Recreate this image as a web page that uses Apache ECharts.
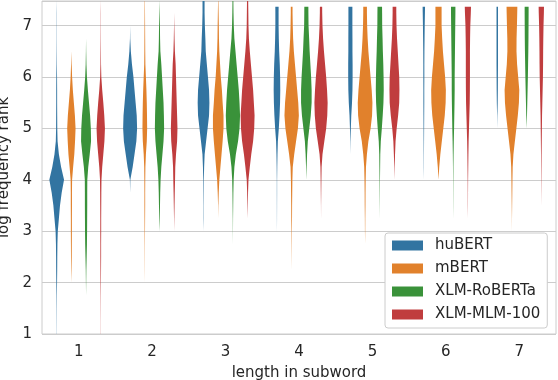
<!DOCTYPE html>
<html>
<head>
<meta charset="utf-8">
<script src="https://cdn.jsdelivr.net/npm/echarts@6/dist/echarts.min.js"></script>
<style>
  html, body { margin: 0; padding: 0; background: #fff; }
  #chart { width: 558px; height: 380px; }
</style>
</head>
<body>
<div id="chart"></div>
<script>
// length groups on the x axis
var lengths = ['1', '2', '3', '4', '5', '6', '7'];
var models = ['huBERT', 'mBERT', 'XLM-RoBERTa', 'XLM-MLM-100'];
var colors = ['#3274a1', '#e1812c', '#3a923a', '#c03d3e'];
var yTicks = [1, 2, 3, 4, 5, 6, 7];

// violin profile levels (top to bottom), widths below are read at these levels
var yLevels = [7.5, 7.25, 7.0, 6.75, 6.5, 6.25, 6.0, 5.75, 5.5, 5.25, 5.0, 4.75, 4.5,
  4.25, 4.0, 3.75, 3.5, 3.25, 3.0, 2.75, 2.5, 2.25, 2.0, 1.75, 1.5, 1.25, 1.0];
// where each length group's violins are cut flat at the top
var clipTop = [7.5, 7.5, 7.5, 7.37, 7.37, 7.37, 7.37];

// violin widths (1 = full slot), one list per length
var huBERT = [
  [0, .015, .015, .015, .02, .03, .05, .06, .06, .07, .08, .12, .3, .6, 1.0, .68, .45, .3, .15, .1, .08, .07, .05, .03, .02, .015, .01],
  [0, 0, 0, .02, .1, .25, .45, .6, .75, .9, .95, .85, .6, .35, .03],
  [.14, .14, .18, .25, .3, .45, .6, .75, .8, .75, .55, .35, .15, .08, .04, .03, .02, .02],
  [.23, .22, .22, .25, .3, .38, .43, .45, .42, .35, .25, .12, .07, .04, .02, .02, .015, .01],
  [.27, .27, .27, .28, .28, .3, .3, .28, .22, .12, .06, .02],
  [.18, .15, .12, .1, .08, .07, .07, .06, .06, .05, .04, .03, .02, .015],
  [.1, .1, .1, .1, .1, .1, .09, .08, .06, .02]
];
var mBERT = [
  [0, 0, 0, 0, 0, .04, .1, .2, .34, .48, .57, .5, .4, .24, .1, .08, .08, .07, .07, .06, .05, .03],
  [.02, .03, .04, .05, .06, .08, .15, .22, .27, .3, .32, .27, .15, .08, .06, .05, .05, .04, .03, .02, .015, .01],
  [.02, .05, .08, .1, .15, .25, .35, .5, .6, .72, .72, .6, .45, .3, .15, .07, .02],
  [.12, .12, .15, .2, .3, .45, .6, .75, .9, .98, .85, .6, .35, .15, .1, .08, .06, .05, .03, .02, .01],
  [.25, .25, .28, .35, .45, .6, .75, .9, 1.0, .95, .75, .45, .25, .12, .08, .06, .05, .03, .02],
  [.42, .42, .42, .5, .6, .75, .9, 1.0, .97, .85, .65, .45, .25, .1],
  [.75, .72, .68, .63, .62, .7, .85, 1.0, .95, .8, .6, .4, .2, .1, .07, .05, .03, .01]
];
var xlmRoberta = [
  [0, 0, 0, 0, .02, .05, .12, .25, .4, .55, .65, .68, .5, .3, .17, .16, .16, .15, .14, .12, .08, .04, .02],
  [0, .03, .06, .08, .12, .25, .35, .45, .55, .6, .63, .55, .4, .25, .15, .1, .07, .04],
  [.06, .08, .12, .2, .35, .5, .65, .8, .9, .97, .9, .7, .4, .2, .1, .06, .04, .02, .01],
  [.27, .28, .3, .38, .45, .55, .65, .72, .72, .6, .4, .2, .1, .04],
  [.3, .32, .33, .38, .42, .48, .52, .54, .5, .4, .28, .14, .07, .05, .03, .02, .01],
  [.3, .3, .28, .26, .24, .22, .2, .2, .18, .15, .12, .08, .05, .03, .02, .015, .01],
  [.27, .27, .26, .25, .23, .2, .17, .13, .09, .05]
];
var xlmMlm = [
  [0, .015, .015, .02, .03, .04, .08, .2, .35, .48, .57, .5, .35, .2, .1, .08, .07, .06, .06, .05, .05, .04, .03, .02, .015, .01, .01],
  [0, 0, .02, .05, .1, .2, .25, .3, .35, .4, .45, .4, .25, .15, .12, .08, .05, .02],
  [.08, .1, .12, .18, .3, .45, .6, .75, .85, .95, .9, .75, .5, .3, .12, .06, .03],
  [.15, .16, .2, .28, .4, .55, .7, .82, .9, .85, .7, .45, .2, .08, .05, .03, .01],
  [.25, .25, .28, .35, .45, .55, .65, .68, .65, .5, .3, .15, .08, .03],
  [.45, .4, .33, .3, .28, .28, .28, .27, .25, .2, .15, .1, .07, .05, .03, .02, .015],
  [.38, .35, .3, .27, .25, .24, .22, .18, .14, .1, .08, .06, .04, .03, .02, .01]
];
var profiles = [huBERT, mBERT, xlmRoberta, xlmMlm];

function widthAt(prof, i) {
  return i < prof.length ? prof[i] : 0;
}

function makeRender(hue) {
  return function (params, api) {
    var g = api.value(0);
    var prof = profiles[hue][g];
    var top = clipTop[g];
    var band = api.size([1, 0])[0];
    var slot = band * 0.8 / 4;
    var cx = api.coord([g, 1])[0] + (hue - 1.5) * slot;

    // collect [y, w] pairs inside the cut
    var pts = [];
    for (var i = 0; i < yLevels.length; i++) {
      var y = yLevels[i], w = widthAt(prof, i);
      if (y > top) {
        var yn = yLevels[i + 1];
        if (yn < top) {
          var wn = widthAt(prof, i + 1);
          pts.push([top, wn + (w - wn) * (top - yn) / (y - yn)]);
        }
        continue;
      }
      pts.push([y, w]);
    }
    // trim the zero ends, keep one zero so the tail tapers
    var a = 0, b = pts.length - 1;
    while (a < pts.length && pts[a][1] === 0) a++;
    while (b >= 0 && pts[b][1] === 0) b--;
    if (a > b) return;
    if (a > 0) a--;
    if (b < pts.length - 1) b++;
    pts = pts.slice(a, b + 1);

    var left = [], right = [];
    for (var k = 0; k < pts.length; k++) {
      var py = api.coord([g, pts[k][0]])[1];
      var half = pts[k][1] * slot / 2;
      right.push([cx + half, py]);
      left.unshift([cx - half, py]);
    }
    return {
      type: 'polygon',
      shape: { points: right.concat(left) },
      style: { fill: colors[hue] }
    };
  };
}

var series = models.map(function (name, hue) {
  return {
    name: name,
    type: 'custom',
    renderItem: makeRender(hue),
    clip: true,
    itemStyle: { color: colors[hue] },
    encode: { x: 0, y: 1 },
    data: lengths.map(function (l, g) { return [g, 1]; })
  };
});

var chart = echarts.init(document.getElementById('chart'), null, { renderer: 'canvas' });
chart.setOption({
  animation: false,
  textStyle: { fontFamily: 'DejaVu Sans' },
  grid: {
    left: 42, right: 2, top: 1, bottom: 46,
    containLabel: false,
    outerBoundsMode: 'none',
    show: true, borderColor: '#cccccc', borderWidth: 1
  },
  legend: {
    orient: 'vertical',
    left: 385, top: 233,
    data: models,
    icon: 'rect',
    itemWidth: 31, itemHeight: 10,
    itemGap: 8,
    padding: [5, 7, 6, 7],
    backgroundColor: '#fff',
    borderColor: '#cccccc', borderWidth: 1, borderRadius: 3,
    textStyle: { fontSize: 15, color: '#262626', padding: [0, 0, 0, 7] }
  },
  xAxis: {
    type: 'category',
    data: lengths,
    name: 'length in subword',
    nameLocation: 'middle',
    nameGap: 32,
    nameTextStyle: { fontSize: 15, color: '#262626' },
    axisLine: { show: false },
    axisTick: { show: false },
    axisLabel: { fontSize: 15, color: '#262626', margin: 11 },
    splitLine: { show: false }
  },
  yAxis: {
    type: 'value',
    min: 1, max: 7.48, interval: 1,
    name: 'log frequency rank',
    nameLocation: 'middle',
    nameGap: 22,
    nameTextStyle: { fontSize: 15, color: '#262626' },
    axisLine: { show: false },
    axisTick: { show: false },
    axisLabel: {
      fontSize: 15, color: '#262626', margin: 10,
      formatter: function (v) { return yTicks.indexOf(v) >= 0 ? String(v) : ''; }
    },
    splitLine: { lineStyle: { color: '#cccccc', width: 1 } }
  },
  series: series
});
</script>
</body>
</html>
